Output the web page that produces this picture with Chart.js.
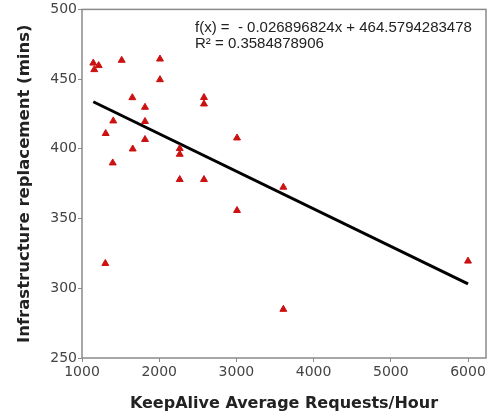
<!DOCTYPE html>
<html>
<head>
<meta charset="utf-8">
<script src="https://cdn.jsdelivr.net/npm/chart.js@4"></script>
<style>
  html, body { margin: 0; padding: 0; background: #fff; }
  #wrap { width: 488px; height: 417px; }
</style>
</head>
<body>
<div id="wrap"><canvas id="scatter" width="488" height="417"></canvas></div>
<script>
// KeepAlive average requests per hour vs infrastructure replacement time
const requestsPerHour = [1146, 1159, 1216, 1514, 2010, 2010, 1652, 1816, 1816, 1405, 1307, 1816, 1657, 1398, 2266, 2266, 2580, 2580, 3008, 2266, 2580, 3008, 1302, 3608, 6000, 3608];
const replacementMins = [461.5, 456.8, 459.7, 463.5, 464.4, 449.6, 436.7, 429.8, 419.6, 420, 411, 406.7, 399.9, 389.9, 400.2, 396.1, 436.8, 432.2, 407.8, 378, 378, 355.8, 317.8, 372.5, 319.5, 284.9];

// trend line from the spreadsheet fit
const fitSlope = -0.026896824;
const fitIntercept = 464.5794283478;
const fitLabels = ['f(x) =  - 0.026896824x + 464.5794283478', 'R\u00B2 = 0.3584878906'];

const xTicks = [1000, 2000, 3000, 4000, 5000, 6000];
const yTicks = [250, 300, 350, 400, 450, 500];

const points = requestsPerHour.map((x, i) => ({ x: x, y: replacementMins[i] }));
const xMin = Math.min(...requestsPerHour);
const xMax = Math.max(...requestsPerHour);
const trend = [xMin, xMax].map(x => ({ x: x, y: fitSlope * x + fitIntercept }));

const frameAndText = {
    id: 'frameAndText',
    afterDraw(chart) {
        const ctx = chart.ctx;
        const a = chart.chartArea;
        ctx.save();
        ctx.strokeStyle = '#8a8a8a';
        ctx.lineWidth = 1.5;
        ctx.strokeRect(a.left, a.top, a.right - a.left, a.bottom - a.top);
        ctx.fillStyle = '#222';
        ctx.font = '15px "Liberation Sans", Arial, sans-serif';
        ctx.textBaseline = 'middle';
        ctx.fillText(fitLabels[0], 195, 28);
        ctx.fillText(fitLabels[1], 195, 44);
        ctx.restore();
    }
};

new Chart(document.getElementById('scatter').getContext('2d'), {
    type: 'scatter',
    data: {
        datasets: [{
            label: 'Replacement',
            data: points,
            pointStyle: 'triangle',
            pointRadius: 4,
            backgroundColor: '#cc1111',
            borderColor: '#cc1111',
            borderWidth: 1
        }, {
            type: 'line',
            label: 'Trend',
            data: trend,
            borderColor: '#000',
            borderWidth: 3,
            pointRadius: 0,
            fill: false
        }]
    },
    options: {
        responsive: false,
        animation: false,
        layout: { autoPadding: false, padding: { top: 9, right: 0, left: 0, bottom: 0 } },
        plugins: {
            legend: { display: false },
            tooltip: { enabled: false }
        },
        scales: {
            x: {
                type: 'linear',
                min: 1000,
                max: 6233,
                afterBuildTicks: s => { s.ticks = xTicks.map(v => ({ value: v })); },
                afterFit: s => { s.height = 59; s.paddingRight = 2; },
                border: { display: false },
                grid: { drawOnChartArea: false, drawTicks: true, tickLength: 4, color: '#8a8a8a' },
                ticks: { color: '#444', padding: 2, font: { family: 'DejaVu Sans', size: 14 }, callback: v => String(v) },
                title: {
                    display: true,
                    text: 'KeepAlive Average Requests/Hour',
                    color: '#222',
                    font: { family: 'DejaVu Sans', size: 16, weight: 'bold' },
                    padding: { top: 18 }
                }
            },
            y: {
                type: 'linear',
                min: 250,
                max: 500,
                afterBuildTicks: s => { s.ticks = yTicks.map(v => ({ value: v })); },
                afterFit: s => { s.width = 82; },
                border: { display: false },
                grid: { drawOnChartArea: false, drawTicks: true, tickLength: 4, color: '#8a8a8a' },
                ticks: { color: '#444', padding: 1, font: { family: 'DejaVu Sans', size: 14 }, callback: v => String(v) },
                title: {
                    display: true,
                    text: 'Infrastructure replacement (mins)',
                    color: '#222',
                    font: { family: 'DejaVu Sans', size: 16.5, weight: 'bold' },
                    padding: { top: 15 }
                }
            }
        }
    },
    plugins: [frameAndText]
});
</script>
</body>
</html>
